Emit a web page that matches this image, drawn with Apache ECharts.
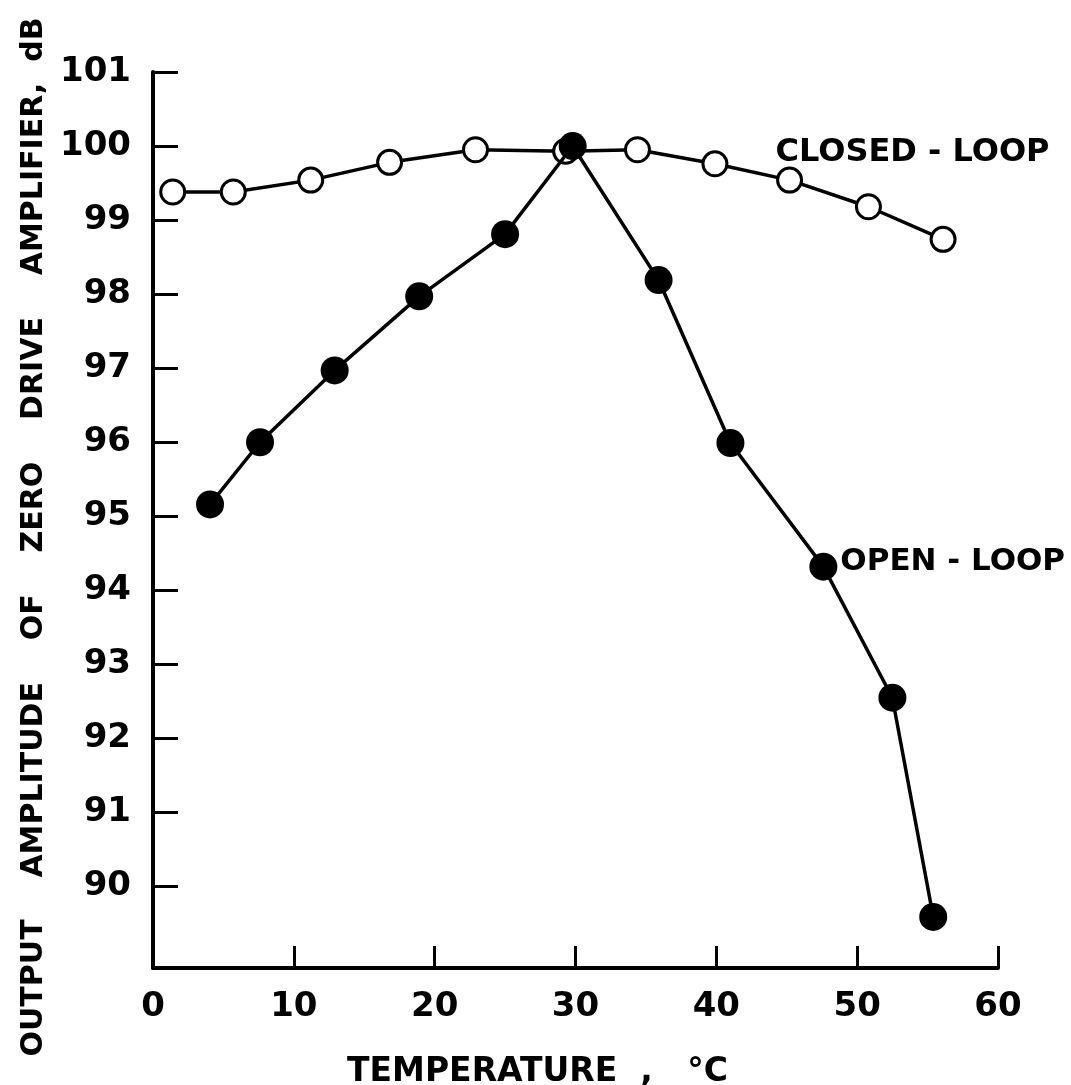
<!DOCTYPE html>
<html>
<head>
<meta charset="utf-8">
<script src="https://cdn.jsdelivr.net/npm/echarts@6/dist/echarts.min.js"></script>
<style>
  html, body { margin: 0; padding: 0; background: #fff; }
  #chart { width: 1071px; height: 1085px; }
</style>
</head>
<body>
<div id="chart"></div>
<script>
// values
const closedLoopTemp = [1.4, 5.7, 11.2, 16.8, 22.9, 29.3, 34.4, 39.9, 45.2, 50.8, 56.1];
const closedLoopDb = [99.38, 99.38, 99.54, 99.78, 99.95, 99.93, 99.95, 99.76, 99.54, 99.18, 98.74];
const openLoopTemp = [4.05, 7.6, 12.9, 18.9, 25.0, 29.8, 35.9, 41.0, 47.6, 52.5, 55.4];
const openLoopDb = [95.16, 96.0, 96.97, 97.97, 98.81, 100.0, 98.19, 95.99, 94.32, 92.55, 89.59];
const yTicks = [90, 91, 92, 93, 94, 95, 96, 97, 98, 99, 100, 101];

const openLabelIndex = 8;
const closedLabelAt = [44.2, 99.95];

const font = 'DejaVu Sans';

const chart = echarts.init(document.getElementById('chart'));

const closedData = closedLoopTemp.map((t, i) => [t, closedLoopDb[i]]);
const openData = openLoopTemp.map((t, i) => {
  const item = { value: [t, openLoopDb[i]] };
  if (i === openLabelIndex) {
    item.label = {
      show: true,
      position: 'right',
      distance: 3,
      offset: [0, -5],
      formatter: 'OPEN - LOOP',
      color: '#000',
      fontFamily: font,
      fontWeight: 'bold',
      fontSize: 31
    };
  }
  return item;
});

const option = {
  backgroundColor: '#fff',
  animation: false,
  grid: { left: 153, right: 73, top: 72, bottom: 117, containLabel: false, outerBoundsMode: 'none' },
  xAxis: {
    type: 'value',
    min: 0,
    max: 60,
    interval: 10,
    name: 'TEMPERATURE  ,   °C',
    nameLocation: 'middle',
    nameGap: 88,
    nameTextStyle: {
      color: '#000', fontFamily: font, fontWeight: 'bold', fontSize: 33,
      padding: [0, 76, 0, 0]
    },
    axisLine: { lineStyle: { color: '#000', width: 4 } },
    axisTick: { inside: true, length: 22, lineStyle: { color: '#000', width: 3 } },
    axisLabel: { color: '#000', fontFamily: font, fontWeight: 'bold', fontSize: 34, margin: 22 },
    splitLine: { show: false }
  },
  yAxis: {
    type: 'value',
    min: 88.9,
    max: 101,
    name: 'OUTPUT    AMPLITUDE    OF    ZERO    DRIVE    AMPLIFIER,  dB',
    nameLocation: 'middle',
    nameRotate: 90,
    nameGap: 104,
    nameTextStyle: {
      color: '#000', fontFamily: font, fontWeight: 'bold', fontSize: 30,
      padding: [0, 34, 0, 0]
    },
    axisLine: { show: true, lineStyle: { color: '#000', width: 4 } },
    axisTick: { show: true, inside: true, length: 25, customValues: yTicks, lineStyle: { color: '#000', width: 3 } },
    axisLabel: { color: '#000', fontFamily: font, fontWeight: 'bold', fontSize: 34, margin: 22, customValues: yTicks },
    splitLine: { show: false }
  },
  series: [
    {
      name: 'CLOSED-LOOP',
      type: 'line',
      data: closedData,
      symbol: 'circle',
      symbolSize: 24,
      lineStyle: { color: '#000', width: 3.5 },
      itemStyle: { color: '#fff', borderColor: '#000', borderWidth: 3 },
      z: 2,
      markPoint: {
        symbol: 'circle',
        symbolSize: 0,
        data: [{ coord: closedLabelAt }],
        label: {
          show: true,
          position: 'right',
          distance: 0,
          offset: [0, 3],
          formatter: 'CLOSED - LOOP',
          color: '#000',
          fontFamily: font,
          fontWeight: 'bold',
          fontSize: 32
        }
      }
    },
    {
      name: 'OPEN-LOOP',
      type: 'line',
      data: openData,
      symbol: 'circle',
      symbolSize: 28,
      lineStyle: { color: '#000', width: 3.5 },
      itemStyle: { color: '#000', borderColor: '#000', borderWidth: 0 },
      z: 3
    }
  ]
};

chart.setOption(option);
</script>
</body>
</html>
